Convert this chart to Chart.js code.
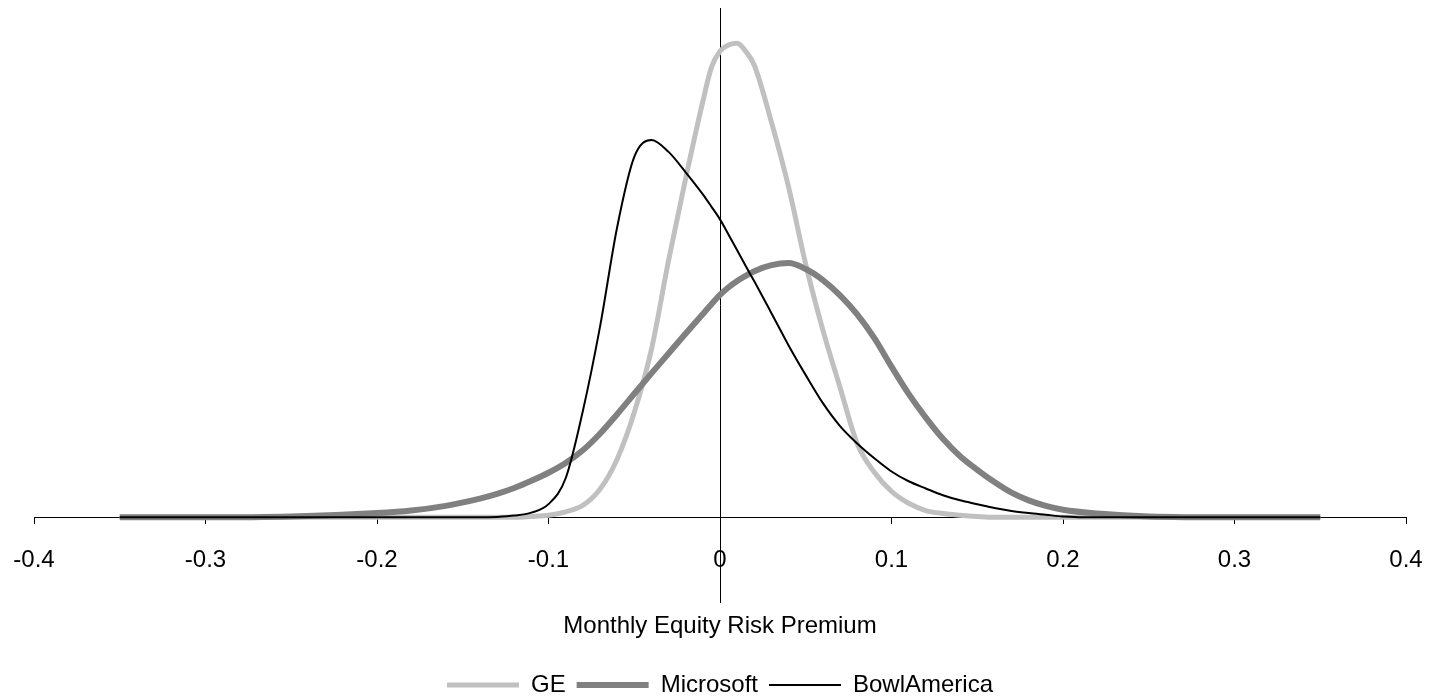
<!DOCTYPE html>
<html lang="en">
<head>
    <meta charset="utf-8">
    <title>Monthly Equity Risk Premium</title>
    <script src="https://cdn.jsdelivr.net/npm/chart.js"></script>
    <style>
        body, html { margin: 0; padding: 0; background: white; }
        #chart-box { width: 1429px; height: 699px; }
    </style>
</head>
<body>
    <div id="chart-box">
        <canvas id="chart"></canvas>
    </div>
    <script>
        // x grid (monthly equity risk premium)
        const xValues = [-0.35, -0.30, -0.25, -0.20, -0.18, -0.16, -0.14, -0.13, -0.12, -0.11,
            -0.10, -0.09, -0.08, -0.07, -0.06, -0.05, -0.04, -0.03, -0.02, -0.01,
            -0.005, 0, 0.005, 0.01, 0.015, 0.02, 0.03, 0.04, 0.05, 0.06,
            0.07, 0.08, 0.09, 0.10, 0.11, 0.12, 0.13, 0.14, 0.15, 0.16,
            0.17, 0.18, 0.19, 0.20, 0.22, 0.25, 0.30, 0.35];

        // density values
        const geValues = [0, 0, 0, 0, 0, 0, 0, 0, 0, 0.02,
            0.05, 0.13, 0.28, 0.66, 1.37, 2.47, 3.95, 6.05, 7.99, 9.80,
            10.60, 10.98, 11.13, 11.17, 10.98, 10.65, 9.31, 7.78, 5.96, 4.41,
            3.06, 1.74, 1.06, 0.61, 0.33, 0.16, 0.09, 0.05, 0.02, 0,
            0, 0, 0, 0, 0, 0, 0, 0];
        const msftValues = [0, 0, 0.02, 0.10, 0.16, 0.27, 0.44, 0.55, 0.69, 0.86,
            1.05, 1.28, 1.58, 1.97, 2.43, 2.91, 3.39, 3.86, 4.33, 4.79,
            5.02, 5.24, 5.42, 5.57, 5.69, 5.80, 5.94, 5.99, 5.85, 5.59,
            5.23, 4.78, 4.22, 3.55, 2.91, 2.35, 1.85, 1.44, 1.12, 0.83,
            0.58, 0.40, 0.27, 0.18, 0.09, 0.02, 0, 0];
        const bowlValues = [0, 0, 0, 0, 0, 0, 0, 0.01, 0.04, 0.11,
            0.31, 0.92, 2.50, 4.48, 6.83, 8.49, 8.89, 8.61, 8.13, 7.61,
            7.32, 7.02, 6.66, 6.29, 5.92, 5.56, 4.81, 4.05, 3.35, 2.69,
            2.15, 1.74, 1.39, 1.08, 0.85, 0.68, 0.52, 0.40, 0.31, 0.22,
            0.15, 0.10, 0.06, 0.02, 0, 0, 0, 0];

        const xTickMin = -0.4;
        const xTickMax = 0.4;
        const xTickStep = 0.1;

        function toPoints(ys) {
            return xValues.map((x, i) => ({ x: x, y: ys[i] }));
        }

        Chart.defaults.font.family = "'Liberation Sans', Arial, sans-serif";
        Chart.defaults.color = '#000000';

        var ctx = document.getElementById('chart').getContext('2d');
        var chart = new Chart(ctx, {
            type: 'line',
            data: {
                datasets: [
                    { label: 'GE', data: toPoints(geValues), borderColor: '#c0c0c0', backgroundColor: '#c0c0c0', borderWidth: 5, order: 3 },
                    { label: 'Microsoft', data: toPoints(msftValues), borderColor: '#808080', backgroundColor: '#808080', borderWidth: 6, order: 2 },
                    { label: 'BowlAmerica', data: toPoints(bowlValues), borderColor: '#000000', backgroundColor: '#000000', borderWidth: 2, order: 1 }
                ]
            },
            options: {
                responsive: true,
                maintainAspectRatio: false,
                animation: false,
                layout: { autoPadding: false, padding: { left: 34, right: 23, top: 8, bottom: -8 } },
                elements: {
                    line: { cubicInterpolationMode: 'monotone', fill: false },
                    point: { radius: 0 }
                },
                plugins: {
                    tooltip: { enabled: false },
                    legend: {
                        position: 'bottom',
                        labels: {
                            font: { size: 24 },
                            color: '#000000',
                            boxWidth: 72,
                            boxHeight: 0,
                            padding: 11,
                            sort: (a, b) => a.datasetIndex - b.datasetIndex
                        }
                    }
                },
                scales: {
                    // axis drawn through y = 0; its pixel span follows the end label widths
                    x: {
                        type: 'linear',
                        position: { y: 0 },
                        min: xTickMin,
                        max: xTickMax,
                        z: 1,
                        border: { color: '#000000', width: 1 },
                        grid: { drawOnChartArea: false, drawTicks: true, tickLength: 6, color: '#000000' },
                        ticks: {
                            stepSize: xTickStep,
                            padding: 6,
                            font: { size: 24, lineHeight: 2.62 },
                            color: '#000000',
                            callback: (v, i) => {
                                const s = String(+v.toFixed(1));
                                // pad the first label evenly so the left end sits at the right place
                                return i === 0 ? ' ' + s + ' ' : s;
                            }
                        }
                    },
                    // title-only axis under the plot
                    x2: {
                        type: 'linear',
                        position: 'bottom',
                        min: xTickMin,
                        max: xTickMax,
                        border: { display: false },
                        grid: { display: false, drawTicks: false },
                        ticks: { display: false },
                        title: {
                            display: true,
                            text: 'Monthly Equity Risk Premium',
                            font: { size: 24 },
                            color: '#000000',
                            padding: { top: 10, bottom: 21 }
                        }
                    },
                    y: {
                        type: 'linear',
                        position: { x: 0 },
                        min: -2,
                        max: 12,
                        z: 1,
                        border: { color: '#000000', width: 1 },
                        grid: { drawOnChartArea: false, drawTicks: false },
                        ticks: { display: false }
                    }
                }
            }
        });
    </script>
</body>
</html>
